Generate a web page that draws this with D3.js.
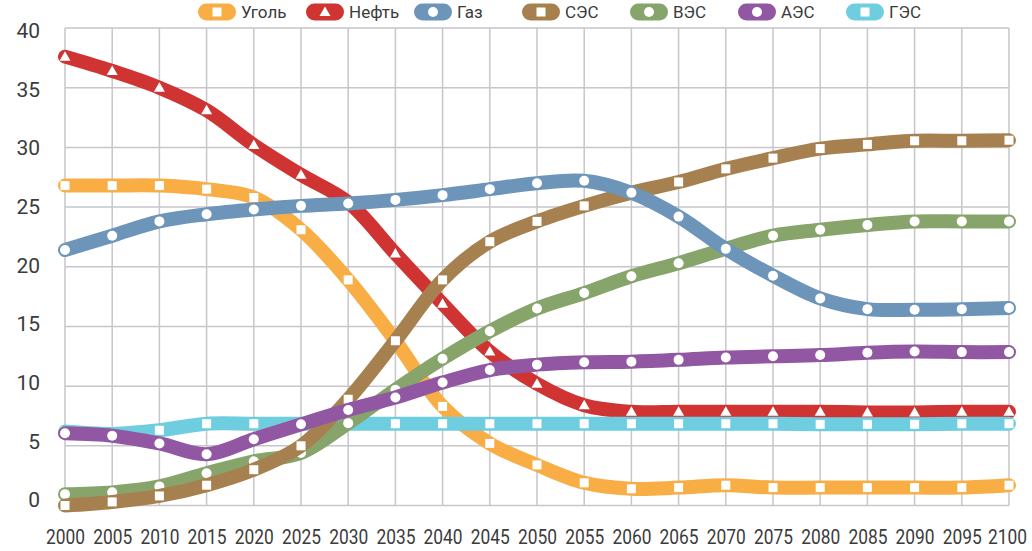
<!DOCTYPE html>
<html>
<head>
<meta charset="utf-8">
<script src="https://cdn.jsdelivr.net/npm/d3@7"></script>
<style>
    body { margin: 0; background: #fff; }
    svg { display: block; font-family: Roboto, 'DejaVu Sans', sans-serif; }
</style>
</head>
<body>
<div id="graph0"></div>
<script>

// ------- data --------

var years = d3.range(2000, 2101, 5)
var yTicks = [0, 5, 10, 15, 20, 25, 30, 35, 40]

var names = ['Уголь', 'Нефть', 'Газ', 'СЭС', 'ВЭС', 'АЭС', 'ГЭС']
var colors = ['#f8ae45', '#cf3433', '#6d95ba', '#a6814f', '#87a46b', '#9257a2', '#6fcde0']
var markers = ['square', 'triangle', 'circle', 'square', 'circle', 'circle', 'square']

var coal    = [26.8, 26.8, 26.8, 26.5, 25.8, 23.1, 18.9, 13.8, 8.3, 5.2, 3.4, 1.9, 1.4, 1.5, 1.7, 1.5, 1.5, 1.5, 1.5, 1.5, 1.7]
var oil     = [37.6, 36.4, 35.0, 33.1, 30.2, 27.7, 25.4, 21.1, 16.9, 12.9, 10.2, 8.4, 7.85, 7.85, 7.85, 7.85, 7.85, 7.8, 7.8, 7.85, 7.85]
var gas     = [21.4, 22.6, 23.8, 24.4, 24.8, 25.1, 25.3, 25.6, 26.0, 26.5, 27.0, 27.2, 26.2, 24.2, 21.5, 19.25, 17.35, 16.45, 16.4, 16.45, 16.55]
var solar   = [0, 0.3, 0.8, 1.7, 3.0, 5.0, 8.9, 13.8, 18.9, 22.1, 23.8, 25.1, 26.2, 27.1, 28.2, 29.1, 29.9, 30.25, 30.55, 30.55, 30.6]
var wind    = [0.95, 1.1, 1.6, 2.7, 3.7, 4.4, 6.9, 9.7, 12.3, 14.6, 16.5, 17.8, 19.2, 20.3, 21.5, 22.6, 23.1, 23.5, 23.8, 23.8, 23.8]
var nuclear = [6.05, 5.85, 5.2, 4.3, 5.55, 6.8, 8.0, 9.05, 10.3, 11.35, 11.8, 12.0, 12.05, 12.2, 12.4, 12.5, 12.6, 12.8, 12.9, 12.85, 12.85]
var hydro   = [6.2, 6.0, 6.3, 6.85, 6.85, 6.85, 6.85, 6.85, 6.85, 6.85, 6.85, 6.85, 6.85, 6.85, 6.85, 6.85, 6.8, 6.8, 6.8, 6.85, 6.85]

var values = [coal, oil, gas, solar, wind, nuclear, hydro]
// z-order the lines are drawn in (last one on top)
var drawOrder = [0, 1, 6, 4, 3, 5, 2]

// ------- svg --------

var width = 1032,
    height = 551;

var svg = d3.select('#graph0').html('')
    .append('svg')
    .attr('width', width)
    .attr('height', height)

var x = d3.scaleLinear()
        .domain([2000, 2100])
        .range([65, 1009]),
    y = d3.scaleLinear()
        .domain([0, 40])
        .range([505.5, 28]);

var textColor = '#3b3b3b'

// grid

var grid = svg.append('g').attr('class', 'grid')

grid.selectAll('.hline')
    .data(yTicks)
    .enter()
    .append('line')
    .attr('class', 'hline')
    .attr('x1', x(2000))
    .attr('x2', x(2100))
    .attr('y1', function(d) { return y(d) })
    .attr('y2', function(d) { return y(d) })
    .style('stroke', '#c6c6cb')
    .style('stroke-width', 1.5)

grid.selectAll('.vline')
    .data(years)
    .enter()
    .append('line')
    .attr('class', 'vline')
    .attr('x1', function(d) { return x(d) })
    .attr('x2', function(d) { return x(d) })
    .attr('y1', y(40))
    .attr('y2', y(0))
    .style('stroke', '#c6c6cb')
    .style('stroke-width', 1.5)

// axes

var yAxis = d3.axisLeft(y)
    .tickValues(yTicks)
    .tickSize(0)
    .tickPadding(25)

svg.append('g')
    .attr('class', 'y axis')
    .attr('transform', 'translate(' + x(2000) + ',0)')
    .call(yAxis)
    .call(function(g) { g.select('.domain').remove() })
    .selectAll('text')
    // labels sit a bit off the grid: lower at the top, higher at the bottom
    .attr('y', function(d) { return -5.5 + d * 0.21 })
    .style('font-size', '21px')
    .style('font-family', 'Roboto, sans-serif')
    .style('fill', textColor)

var xAxis = d3.axisBottom(x)
    .tickValues(years)
    .tickFormat(d3.format('d'))
    .tickSize(0)
    .tickPadding(24)

svg.append('g')
    .attr('class', 'x axis')
    .attr('transform', 'translate(0,' + y(0) + ')')
    .call(xAxis)
    .call(function(g) { g.select('.domain').remove() })
    .selectAll('text')
    .attr('x', function(d) { return d == 2100 ? -2 : 0 })
    .attr('textLength', 39)
    .attr('lengthAdjust', 'spacingAndGlyphs')
    .style('font-size', '20px')
    .style('font-family', 'Roboto, sans-serif')
    .style('fill', textColor)

// ------- lines --------

var line = d3.line()
    .x(function(d) { return x(d.year) })
    .y(function(d) { return y(d.value) })
    .curve(d3.curveCatmullRom.alpha(0.5))

var series = drawOrder.map(function(i) {
    return {
        name: names[i],
        color: colors[i],
        marker: markers[i],
        points: years.map(function(yr, j) { return { year: yr, value: values[i][j] } })
    }
})

function drawMarker(sel, type, cx, cy) {
    if (type == 'square') {
        sel.append('rect')
            .attr('x', cx - 4.5)
            .attr('y', cy - 4.5)
            .attr('width', 9)
            .attr('height', 9)
            .style('fill', '#fff')
    } else if (type == 'circle') {
        sel.append('circle')
            .attr('cx', cx)
            .attr('cy', cy)
            .attr('r', 5)
            .style('fill', '#fff')
    } else {
        sel.append('path')
            .attr('d', 'M' + cx + ',' + (cy - 5.5) + 'L' + (cx + 5.5) + ',' + (cy + 4) + 'L' + (cx - 5.5) + ',' + (cy + 4) + 'Z')
            .style('fill', '#fff')
    }
}

var group = svg.append('g')
    .attr('class', 'series')
    .selectAll('g')
    .data(series)
    .enter()
    .append('g')

group.append('path')
    .attr('d', function(d) { return line(d.points) })
    .style('fill', 'none')
    .style('stroke', function(d) { return d.color })
    .style('stroke-width', 14)
    .style('stroke-linecap', 'round')
    .style('stroke-linejoin', 'round')

group.each(function(d) {
    var g = d3.select(this)
    d.points.forEach(function(p) {
        drawMarker(g, d.marker, x(p.year), y(p.value))
    })
})

// ------- legend --------

var legend = svg.append('g')
    .attr('class', 'legend')
    .selectAll('g')
    .data(names)
    .enter()
    .append('g')
    .attr('transform', function(d, i) { return 'translate(' + (198 + i * 108) + ',12)' })

legend.append('rect')
    .attr('x', 0)
    .attr('y', -8.5)
    .attr('width', 38)
    .attr('height', 17)
    .attr('rx', 8.5)
    .style('fill', function(d, i) { return colors[i] })

legend.each(function(d, i) {
    drawMarker(d3.select(this), markers[i], 19, 0)
})

legend.append('text')
    .attr('x', 43)
    .attr('y', 0)
    .attr('dy', '0.36em')
    .text(function(d) { return d })
    .style('font-size', '17px')
    .style('fill', textColor)

</script>
</body>
</html>
